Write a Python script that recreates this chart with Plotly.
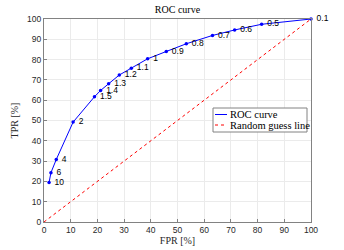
import plotly.graph_objects as go

thresholds = ["10", "6", "4", "2", "1.5", "1.4", "1.3", "1.2", "1.1", "1", "0.9", "0.8", "0.7", "0.6", "0.5", "0.1"]
fpr = [1.9, 2.6, 4.6, 10.9, 18.9, 21.2, 24.2, 28.2, 32.7, 38.8, 45.8, 53.3, 63.1, 71.4, 81.5, 100]
tpr = [19.5, 24.3, 30.8, 49.2, 61.7, 64.8, 68.1, 72.4, 75.8, 80.4, 84.0, 87.8, 91.9, 94.6, 97.4, 100]
guess_x = [0, 100]
guess_y = [0, 100]
ticks = list(range(0, 101, 10))
legend_names = ["ROC curve", "Random guess line"]

serif = "Liberation Serif"
sans = "Liberation Sans"
W, H = 344, 250
L, R, T, B = 44, 33, 19, 28
pw, ph = W - L - R, H - T - B

def px(xp):
    return (xp - L) / pw

def py(yp):
    return (H - B - yp) / ph

fig = go.Figure()
fig.add_trace(go.Scatter(
    x=guess_x, y=guess_y, mode="lines", name=legend_names[1], showlegend=False,
    line=dict(color="rgb(255,0,0)", width=1, dash="dot"), cliponaxis=False,
))
fig.add_trace(go.Scatter(
    x=fpr, y=tpr, mode="lines+markers+text", name=legend_names[0], showlegend=False,
    line=dict(color="rgb(0,0,255)", width=1),
    marker=dict(color="rgb(0,0,255)", size=3.5),
    text=[" " + t for t in thresholds], textposition="middle right",
    textfont=dict(family=sans, size=8.5, color="black"), cliponaxis=False,
))

axis_common = dict(
    range=[0, 100], tickvals=ticks, showgrid=True, gridcolor="rgb(235,235,235)", gridwidth=1,
    showline=True, linecolor="rgb(130,130,130)", linewidth=1, mirror=True,
    ticks="inside", ticklen=3, tickcolor="rgb(130,130,130)",
    tickfont=dict(family=sans, size=8.5, color="rgb(40,40,40)"), zeroline=False,
    automargin=False,
)

# custom legend box
lx0, lx1, ly0, ly1 = 213, 307, 108, 132
shapes = [dict(type="rect", xref="paper", yref="paper",
               x0=px(lx0), x1=px(lx1), y0=py(ly1), y1=py(ly0),
               line=dict(color="rgb(130,130,130)", width=1), fillcolor="white", layer="above")]
annotations = []
legend_styles = [dict(color="rgb(0,0,255)", width=1), dict(color="rgb(255,0,0)", width=1, dash="dot")]
for i, name in enumerate(legend_names):
    yc = 114.5 + i * 10.5
    shapes.append(dict(type="line", xref="paper", yref="paper",
                       x0=px(215), x1=px(227), y0=py(yc), y1=py(yc),
                       line=legend_styles[i], layer="above"))
    annotations.append(dict(text=name, xref="paper", yref="paper", x=px(228), y=py(yc),
                            xanchor="left", yanchor="middle", showarrow=False,
                            font=dict(family=serif, size=10.5, color="black")))

fig.update_layout(
    width=W, height=H,
    margin=dict(l=L, r=R, t=T, b=B),
    paper_bgcolor="white", plot_bgcolor="white",
    title=dict(text="ROC curve", xref="paper", x=0.5, xanchor="center", y=0.975, yanchor="top",
               font=dict(family=serif, size=10, color="black")),
    xaxis=dict(**axis_common, title=dict(text="FPR [%]", standoff=1,
               font=dict(family=serif, size=10, color="rgb(40,40,40)"))),
    yaxis=dict(**axis_common, title=dict(text="TPR [%]", standoff=6,
               font=dict(family=serif, size=10, color="rgb(40,40,40)"))),
    showlegend=False,
    shapes=shapes, annotations=annotations,
)
fig.write_html("out.html", config={"displayModeBar": False},
               post_script="document.body.style.margin='0';document.body.style.padding='0';")
